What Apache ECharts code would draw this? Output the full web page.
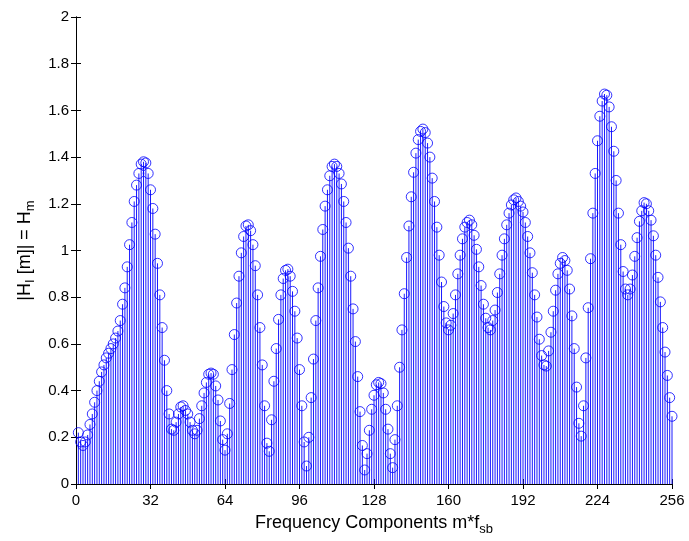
<!DOCTYPE html>
<html>
<head>
<meta charset="utf-8">
<script src="https://cdn.jsdelivr.net/npm/echarts@6/dist/echarts.min.js"></script>
<style>
html,body{margin:0;padding:0;background:#fff;}
#chart{width:689px;height:541px;}
</style>
</head>
<body>
<div id="chart"></div>
<script>
// indices m = 1..256
const magnitudes = [
0.22,0.18,0.165,0.18,0.21,0.255,0.30,0.35,0.40,0.44,
0.48,0.51,0.54,0.56,0.58,0.60,0.625,0.655,0.70,0.77,
0.84,0.93,1.025,1.12,1.21,1.28,1.33,1.37,1.38,1.375,
1.33,1.26,1.18,1.07,0.945,0.81,0.67,0.53,0.40,0.30,
0.235,0.23,0.265,0.30,0.33,0.335,0.315,0.30,0.265,0.23,
0.215,0.23,0.28,0.335,0.39,0.435,0.47,0.475,0.47,0.42,
0.36,0.27,0.19,0.145,0.215,0.345,0.49,0.64,0.775,0.89,
0.99,1.06,1.105,1.11,1.085,1.025,0.935,0.81,0.67,0.51,
0.335,0.175,0.14,0.275,0.44,0.58,0.705,0.81,0.88,0.915,
0.92,0.89,0.825,0.74,0.625,0.49,0.335,0.18,0.077,0.20,
0.37,0.535,0.70,0.84,0.975,1.09,1.19,1.26,1.32,1.36,
1.37,1.36,1.33,1.285,1.21,1.12,1.01,0.89,0.75,0.61,
0.46,0.31,0.165,0.06,0.13,0.23,0.32,0.38,0.425,0.435,
0.43,0.39,0.32,0.235,0.13,0.07,0.19,0.335,0.50,0.66,
0.815,0.97,1.105,1.23,1.335,1.417,1.475,1.51,1.52,1.505,
1.46,1.40,1.31,1.21,1.10,0.98,0.865,0.76,0.69,0.66,
0.68,0.73,0.81,0.90,0.98,1.05,1.10,1.12,1.13,1.11,
1.065,1.005,0.93,0.85,0.77,0.71,0.67,0.66,0.70,0.745,
0.82,0.90,0.98,1.05,1.11,1.16,1.195,1.217,1.225,1.21,
1.19,1.165,1.12,1.06,0.99,0.905,0.81,0.715,0.62,0.55,
0.51,0.505,0.57,0.65,0.74,0.83,0.90,0.945,0.97,0.957,
0.915,0.835,0.72,0.58,0.415,0.26,0.205,0.335,0.54,0.755,
0.965,1.16,1.33,1.47,1.575,1.64,1.67,1.665,1.615,1.53,
1.425,1.30,1.16,1.025,0.91,0.835,0.81,0.835,0.895,0.975,
1.055,1.125,1.17,1.205,1.20,1.17,1.13,1.063,0.98,0.885,
0.78,0.67,0.565,0.465,0.37,0.29
];
const firstIndex = 1;
const xTicks = [0,32,64,96,128,160,192,224,256];
const yTicks = [0,0.2,0.4,0.6,0.8,1,1.2,1.4,1.6,1.8,2];

const points = magnitudes.map((v,i)=>[firstIndex+i, v]);

const chart = echarts.init(document.getElementById('chart'), null, {renderer:'canvas'});
const FONT = 'Liberation Sans';
const axisLine = {show:true, lineStyle:{color:'#000', width:1}};
const tick = {show:true, inside:true, length:5, lineStyle:{color:'#000'}};

chart.setOption({
  animation:false,
  backgroundColor:'#fff',
  grid:{left:76, right:17, top:17, bottom:54, containLabel:false},
  xAxis:[{
    type:'value', min:0, max:256, interval:32, position:'bottom',
    axisLine:axisLine, axisTick:tick, splitLine:{show:false},
    axisLabel:{color:'#000', fontFamily:FONT, fontSize:15, margin:9,
      formatter:v=> xTicks.indexOf(v)>=0 ? String(v) : ''},
    name:'{a|Frequency Components m*f}{s|sb}', nameLocation:'middle', nameGap:27,
    nameTextStyle:{color:'#000', fontFamily:FONT, fontSize:18,
      rich:{a:{fontFamily:FONT, fontSize:18, color:'#000'}, s:{fontFamily:FONT, fontSize:13, color:'#000', padding:[12,0,0,0]}}}
  },{
    type:'value', min:0, max:256, interval:32, position:'top',
    axisLine:axisLine, axisTick:tick, axisLabel:{show:false}, splitLine:{show:false}
  }],
  yAxis:[{
    type:'value', min:0, max:2, interval:0.2, position:'left',
    axisLine:axisLine, axisTick:tick, splitLine:{show:false},
    axisLabel:{color:'#000', fontFamily:FONT, fontSize:15, margin:7,
      formatter:v=>{const r=Math.round(v*10)/10; return yTicks.indexOf(r)>=0 ? String(r) : '';}},
    name:'{a||H}{s|I}{a| [m]| = H}{s|m}', nameLocation:'middle', nameGap:33, nameRotate:90,
    nameTextStyle:{color:'#000', fontFamily:FONT, fontSize:18,
      rich:{a:{fontFamily:FONT, fontSize:18, color:'#000'}, s:{fontFamily:FONT, fontSize:13, color:'#000', padding:[12,0,0,0]}}}
  },{
    type:'value', min:0, max:2, interval:0.2, position:'right',
    axisLine:axisLine, axisTick:tick, axisLabel:{show:false}, splitLine:{show:false}
  }],
  series:[{
    type:'custom',
    xAxisIndex:0, yAxisIndex:0,
    data:points,
    renderItem:function(params, api){
      const x = api.value(0), y = api.value(1);
      const p0 = api.coord([x,0]);
      const p1 = api.coord([x,y]);
      return {type:'line', shape:{x1:p0[0], y1:p0[1], x2:p1[0], y2:p1[1]},
        style:{stroke:'#1a1aff', lineWidth:1}};
    },
    silent:true, z:2
  },{
    type:'scatter',
    xAxisIndex:0, yAxisIndex:0,
    data:points,
    symbol:'circle', symbolSize:10,
    itemStyle:{color:'rgba(0,0,0,0)', borderColor:'#0000ff', borderWidth:1},
    silent:true, z:3
  }]
});
</script>
</body>
</html>
